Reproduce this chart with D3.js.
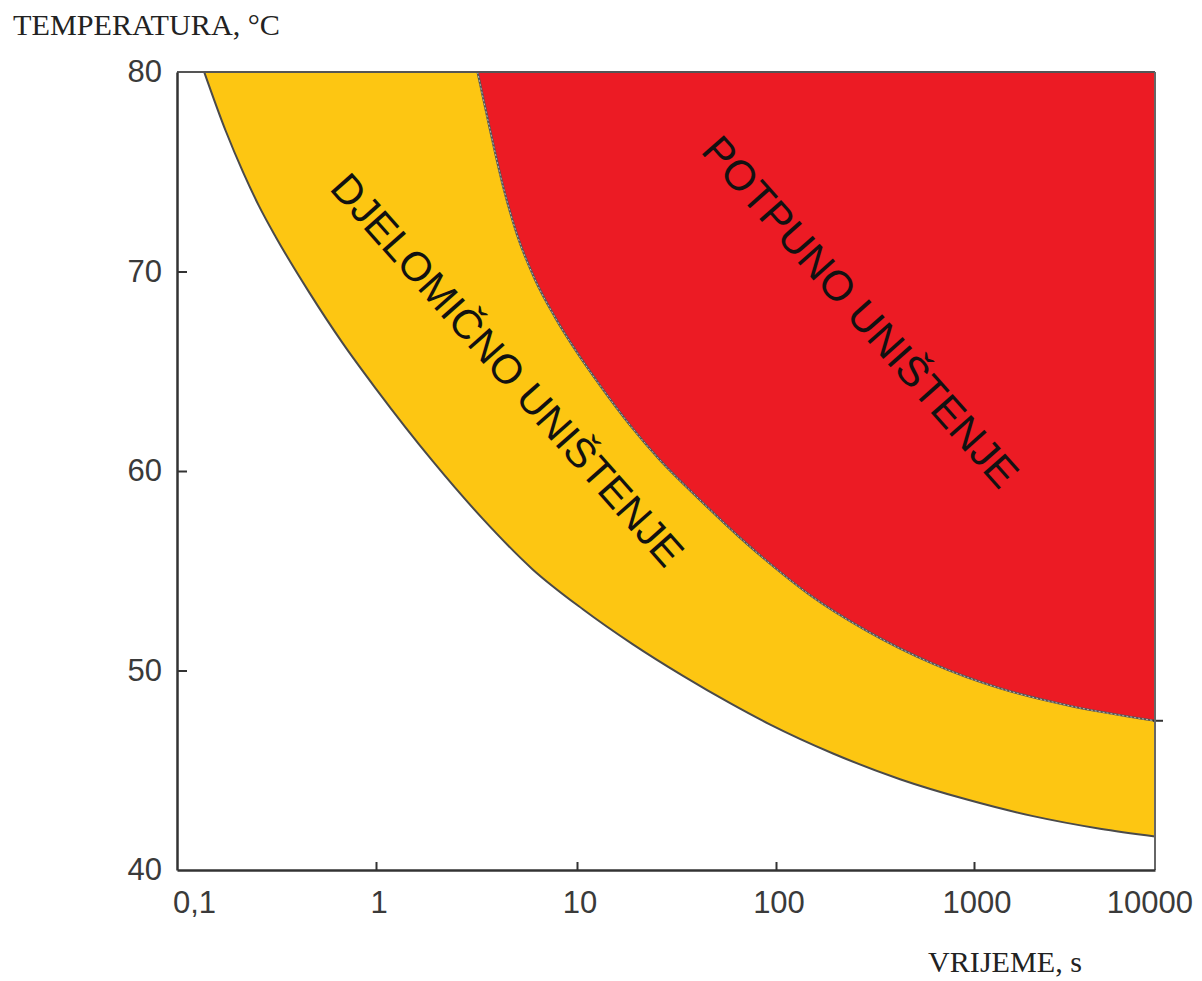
<!DOCTYPE html>
<html>
<head>
<meta charset="utf-8">
<script src="https://cdn.jsdelivr.net/npm/d3@7"></script>
<style>
  html, body { margin: 0; padding: 0; background: #ffffff; }
  svg { display: block; }
</style>
</head>
<body>
<svg id="chart" width="1202" height="981"></svg>
<script>
// ---- data ----
const xTicks = [0.1, 1, 10, 100, 1000, 10000];
const xTickLabels = ["0,1", "1", "10", "100", "1000", "10000"];
const yTicks = [40, 50, 60, 70, 80];
const yTickLabels = ["40", "50", "60", "70", "80"];

// lower boundary (start of partial destruction): time in s, temperature in °C
const lowerTime = [0.137, 0.176, 0.215, 0.258, 0.314, 0.46, 0.68, 1, 1.92, 3.4, 6.0, 10.7, 19.1, 34.1, 58.8, 93, 194, 423, 922, 2120, 4970, 10000];
const lowerTemp = [80, 77.03, 74.97, 73.29, 71.72, 68.98, 66.41, 64.12, 60.48, 57.60, 55.08, 53.07, 51.31, 49.73, 48.36, 47.30, 45.84, 44.55, 43.53, 42.70, 42.07, 41.68];

// upper boundary (start of complete destruction)
const upperTime = [3.2, 3.69, 4.29, 5.03, 6.18, 7.78, 10.1, 13.1, 18.5, 26.1, 41.5, 65.9, 98.8, 148, 287, 617, 1390, 3270, 10000];
const upperTemp = [80, 77.12, 74.26, 71.85, 69.6, 67.7, 65.88, 64.27, 62.29, 60.55, 58.55, 56.66, 55.15, 53.79, 51.99, 50.35, 49.11, 48.26, 47.48];

const zoneLabels = ["DJELOMIČNO UNIŠTENJE", "POTPUNO UNIŠTENJE"];
const yTitle = "TEMPERATURA, °C";
const xTitle = "VRIJEME, s";

// ---- drawing ----
const svg = d3.select("#chart");

const x = d3.scaleLog()
  .domain(xTicks)
  .range([177, 376, 577, 776, 974, 1155]);
const y = d3.scaleLinear().domain([40, 80]).range([870, 72]);

const xMax = xTicks[xTicks.length - 1];
const yMax = yTicks[yTicks.length - 1];

const lowerPts = lowerTime.map((t, i) => [t, lowerTemp[i]]);
const upperPts = upperTime.map((t, i) => [t, upperTemp[i]]);

const line = d3.line()
  .x(d => x(d[0]))
  .y(d => y(d[1]))
  .curve(d3.curveMonotoneX);

function zonePath(pts) {
  return line(pts) + "L" + x(xMax) + "," + y(yMax) + "Z";
}

// yellow zone
svg.append("path")
  .attr("d", zonePath(lowerPts))
  .attr("fill", "#FDC612")
  .attr("stroke", "none");

// red zone
svg.append("path")
  .attr("d", zonePath(upperPts))
  .attr("fill", "#EC1B24")
  .attr("stroke", "none");

// lower boundary line
svg.append("path")
  .attr("d", line(lowerPts))
  .attr("fill", "none")
  .attr("stroke", "#4a4a4a")
  .attr("stroke-width", 2);

// upper boundary line (dark with light dashes)
svg.append("path")
  .attr("d", line(upperPts))
  .attr("fill", "none")
  .attr("stroke", "#555")
  .attr("stroke-width", 2.2);
svg.append("path")
  .attr("d", line(upperPts))
  .attr("fill", "none")
  .attr("stroke", "rgba(255,255,255,0.55)")
  .attr("stroke-width", 1)
  .attr("stroke-dasharray", "2,2");
// small stub past the right edge
const lastU = upperPts[upperPts.length - 1];
svg.append("line")
  .attr("x1", x(lastU[0]) - 2).attr("x2", x(lastU[0]) + 8)
  .attr("y1", y(lastU[1])).attr("y2", y(lastU[1]))
  .attr("stroke", "#333").attr("stroke-width", 2);

// frame: top and right
svg.append("line")
  .attr("x1", x(xTicks[0])).attr("x2", x(xMax))
  .attr("y1", y(yMax)).attr("y2", y(yMax))
  .attr("stroke", "#555").attr("stroke-width", 2);
svg.append("line")
  .attr("x1", x(xMax)).attr("x2", x(xMax))
  .attr("y1", y(yMax)).attr("y2", y(40))
  .attr("stroke", "#666").attr("stroke-width", 2);

// axes
const xAxis = d3.axisBottom(x)
  .tickValues(xTicks.slice(1, -1))
  .tickSizeInner(-8)
  .tickSizeOuter(0)
  .tickFormat("");
const gx = svg.append("g").attr("transform", `translate(0,${y(40)})`).call(xAxis);
gx.select(".domain").attr("stroke", "#333").attr("stroke-width", 2.5);
gx.selectAll(".tick line").attr("stroke", "#333").attr("stroke-width", 2);

const yAxis = d3.axisLeft(y)
  .tickValues(yTicks.slice(1, -1))
  .tickSizeInner(-10)
  .tickSizeOuter(0)
  .tickFormat("");
const gy = svg.append("g").attr("transform", `translate(${x(xTicks[0])},0)`).call(yAxis);
gy.select(".domain").attr("stroke", "#333").attr("stroke-width", 2.5);
gy.selectAll(".tick line").attr("stroke", "#333").attr("stroke-width", 2);

// tick labels
const tickFont = "'Liberation Sans', Arial, sans-serif";
svg.append("g").selectAll("text")
  .data(xTicks)
  .join("text")
  .attr("x", (d, i) => i === 0 ? x(d) - 4 : (i === xTicks.length - 1 ? x(d) + 38 : x(d) + 3))
  .attr("y", 913)
  .attr("text-anchor", (d, i) => i === 0 ? "start" : (i === xTicks.length - 1 ? "end" : "middle"))
  .attr("font-family", tickFont)
  .attr("font-size", 31)
  .attr("fill", "#3a3a3a")
  .text((d, i) => xTickLabels[i]);

svg.append("g").selectAll("text")
  .data(yTicks)
  .join("text")
  .attr("x", 162)
  .attr("y", d => y(d) + 2)
  .attr("dominant-baseline", "middle")
  .attr("text-anchor", "end")
  .attr("font-family", tickFont)
  .attr("font-size", 31)
  .attr("fill", "#3a3a3a")
  .text((d, i) => yTickLabels[i]);

// axis titles
svg.append("text")
  .attr("x", 13).attr("y", 35)
  .attr("font-family", "'Liberation Serif', 'Times New Roman', serif")
  .attr("font-size", 30)
  .attr("fill", "#222")
  .attr("textLength", 267)
  .attr("lengthAdjust", "spacingAndGlyphs")
  .text(yTitle);
svg.append("text")
  .attr("x", 928).attr("y", 972)
  .attr("font-family", "'Liberation Serif', 'Times New Roman', serif")
  .attr("font-size", 29)
  .attr("fill", "#222")
  .attr("textLength", 154)
  .attr("lengthAdjust", "spacingAndGlyphs")
  .text(xTitle);

// zone labels (rotated)
const zoneFont = "'Liberation Sans', Arial, sans-serif";
svg.append("text")
  .attr("transform", "translate(505,372) rotate(48.5)")
  .attr("text-anchor", "middle")
  .attr("dominant-baseline", "middle")
  .attr("font-family", zoneFont)
  .attr("font-size", 41)
  .attr("fill", "#111")
  .text(zoneLabels[0]);
svg.append("text")
  .attr("transform", "translate(858,314) rotate(48.5)")
  .attr("text-anchor", "middle")
  .attr("dominant-baseline", "middle")
  .attr("font-family", zoneFont)
  .attr("font-size", 42)
  .attr("fill", "#111")
  .text(zoneLabels[1]);
</script>
</body>
</html>
